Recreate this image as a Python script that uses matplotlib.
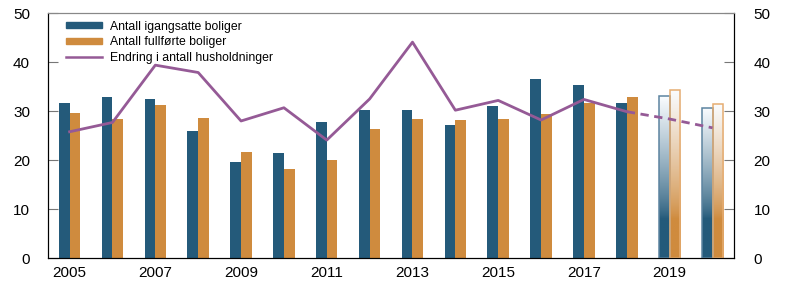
import matplotlib
matplotlib.use("agg")
import matplotlib.pyplot as plt
import numpy as np
from matplotlib.colors import to_rgb
from matplotlib.lines import Line2D
from matplotlib.patches import Patch

plt.rcParams["font.family"] = ["Liberation Sans", "DejaVu Sans"]

years = list(range(2005, 2021))
igangsatte = [31.6, 32.8, 32.4, 26.0, 19.7, 21.4, 27.7, 30.2,
              30.3, 27.2, 31.0, 36.6, 35.4, 31.6, 33.0, 30.7]
fullforte = [29.6, 28.5, 31.2, 28.7, 21.7, 18.1, 20.0, 26.3,
             28.5, 28.2, 28.4, 29.4, 31.6, 32.9, 34.4, 31.4]
husholdninger = [25.8, 27.7, 39.4, 37.9, 28.0, 30.7, 24.1, 32.5,
                 44.1, 30.2, 32.2, 28.2, 32.4, 29.9, 28.4, 26.6]
n_forecast = 2  # last two years are projections

blue = "#245a7a"
orange = "#cf8b3e"
purple = "#955a96"

fig, ax = plt.subplots(figsize=(8.03, 2.94), dpi=100)
fig.subplots_adjust(left=0.06, right=0.914, top=0.955, bottom=0.122)

x = np.array(years, dtype=float)
w = 0.25
n_hist = len(years) - n_forecast

ax.bar(x[:n_hist] - w / 2, igangsatte[:n_hist], w, color=blue, zorder=2)
ax.bar(x[:n_hist] + w / 2, fullforte[:n_hist], w, color=orange, zorder=2)


def gradient_bar(xc, h, color, edge):
    bar = ax.bar(xc, h, w, color="none", edgecolor=edge, linewidth=1.1, zorder=3)[0]
    base = np.array(to_rgb(color))
    vals = np.linspace(h, 0, 200)
    t = np.clip((vals - 8) / (h - 8), 0, 1) ** 0.8
    img = (1 - t)[:, None] * base + t[:, None] * np.array([0.98, 0.99, 1.0])
    img = np.repeat(img[:, None, :], 2, axis=1)
    im = ax.imshow(img, extent=(xc - w / 2, xc + w / 2, 0, h), aspect="auto",
                   zorder=2, interpolation="bilinear")
    im.set_clip_path(bar)


for i in range(n_hist, len(years)):
    gradient_bar(x[i] - w / 2, igangsatte[i], blue, "#5c84a0")
    gradient_bar(x[i] + w / 2, fullforte[i], orange, "#e6ad72")

ax.plot(x[:n_hist], husholdninger[:n_hist], color=purple, lw=2, zorder=4)
ax.plot(x[n_hist - 1:], husholdninger[n_hist - 1:], color=purple, lw=2,
        ls=(0, (3, 2)), zorder=4)

ax.set_xlim(2004.5, 2020.5)
ax.set_ylim(0, 50)
ax.set_xticks(years[::2])
ax.tick_params(axis="x", length=0, labelsize=11, pad=6)
ax.set_yticks(range(0, 51, 10))
ax.tick_params(axis="y", direction="in", length=7, color="#777777",
               labelsize=11, pad=13)
ax.spines["top"].set_color("#888888")

ax2 = ax.twinx()
ax2.set_ylim(0, 50)
ax2.set_yticks(range(0, 51, 10))
ax2.tick_params(axis="y", direction="in", length=7, color="#777777",
                labelsize=11, pad=14)
ax2.spines["top"].set_color("#888888")

handles = [
    Patch(color=blue, label="Antall igangsatte boliger"),
    Patch(color=orange, label="Antall fullførte boliger"),
    Line2D([], [], color=purple, lw=1.8, label="Endring i antall husholdninger"),
]
ax.legend(handles=handles, loc="upper left", bbox_to_anchor=(0.015, 1.0),
          frameon=False, fontsize=8.8, handlelength=2.95, handleheight=0.45,
          handletextpad=0.7, labelspacing=0.3, borderaxespad=0.2)

plt.savefig("out.png")
plt.close()
